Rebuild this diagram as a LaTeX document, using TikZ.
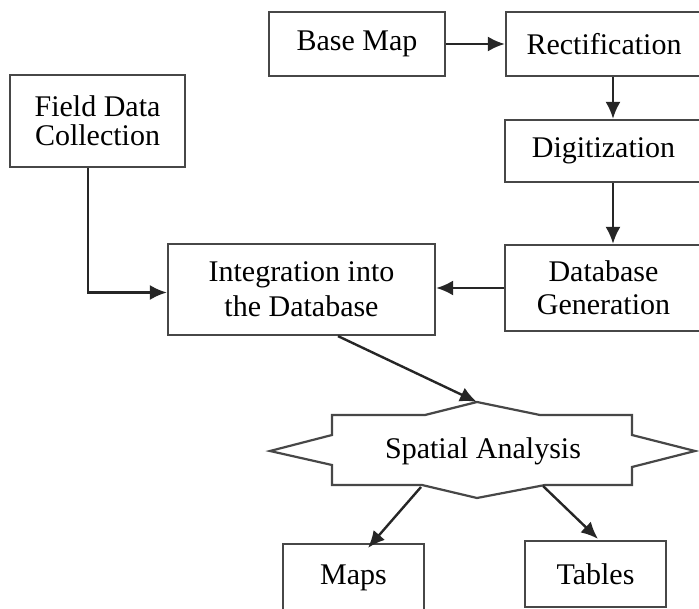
\documentclass[tikz,border=0pt]{standalone}
\usepackage{fontspec}
\setmainfont{Liberation Serif}
\usetikzlibrary{arrows.meta}
\tikzset{
  box/.style={draw=black!72, line width=2.2pt, fill=white, align=center, inner sep=0pt, font=\fontsize{30}{34}\selectfont},
  arr/.style={draw=black!85, line width=2.4pt, -{Latex[length=17pt,width=15pt]}},
  txt/.style={inner sep=0pt, font=\fontsize{30}{34}\selectfont}
}
\begin{document}
\begin{tikzpicture}[x=1pt,y=-1pt]
\useasboundingbox (0,0) rectangle (699,609);
\clip (0,0) rectangle (699,609);
% boxes
\node[box, minimum width=176pt, minimum height=64pt] (base) at (357,44) {Base Map};
\node[box, minimum width=196pt, minimum height=64pt] (rect) at (604,44) {Rectification};
\node[box, minimum width=197pt, minimum height=62pt] (dig) at (603.5,151) {Digitization};
\node[box, minimum width=197pt, minimum height=86pt] (dbg) at (603.5,288) {Database\\[-1pt]Generation};
\node[box, minimum width=175pt, minimum height=92pt, font=\fontsize{30}{29}\selectfont] (field) at (97.5,121) {Field Data\\Collection};
\node[box, minimum width=267pt, minimum height=91pt] (integ) at (301.5,289.5) {Integration into\\[1pt]the Database};
\node[box, minimum width=141pt, minimum height=68pt] (maps) at (353.5,578) {Maps};
\node[box, minimum width=141pt, minimum height=66pt] (tables) at (595.5,574) {Tables};
% spatial analysis star
\draw[draw=black!72, line width=2.2pt, fill=white, line join=miter]
  (332,415) -- (425,415) -- (477,402) -- (540,415) -- (632,415) -- (632,435)
  -- (695,451) -- (632,467) -- (632,485) -- (545,485) -- (477,498) -- (422,485)
  -- (332,485) -- (332,465) -- (270,451) -- (332,435) -- cycle;
\coordinate (spatop) at (477,402);
\coordinate (spabl) at (421,487);
\coordinate (spabr) at (543,486);
\node[txt] (spa) at (483,451) {Spatial Analysis};
% connectors
\draw[arr] (base.east) -- (rect.west);
\draw[arr] ([xshift=9pt]rect.south) -- ([xshift=9.5pt]dig.north);
\draw[arr] ([xshift=9.5pt]dig.south) -- ([xshift=9.5pt]dbg.north);
\draw[arr] (dbg.west) -- (dbg.west -| integ.east);
\draw[arr] ([xshift=-9.5pt]field.south) |- ([yshift=-3pt]integ.west);
\draw[arr] ([xshift=36.5pt]integ.south) -- (spatop);
\draw[arr] (spabl) -- ([xshift=14.5pt,yshift=-5pt]maps.north);
\draw[arr] (spabr) -- ([xshift=2.5pt,yshift=1pt]tables.north);
\end{tikzpicture}
\end{document}
